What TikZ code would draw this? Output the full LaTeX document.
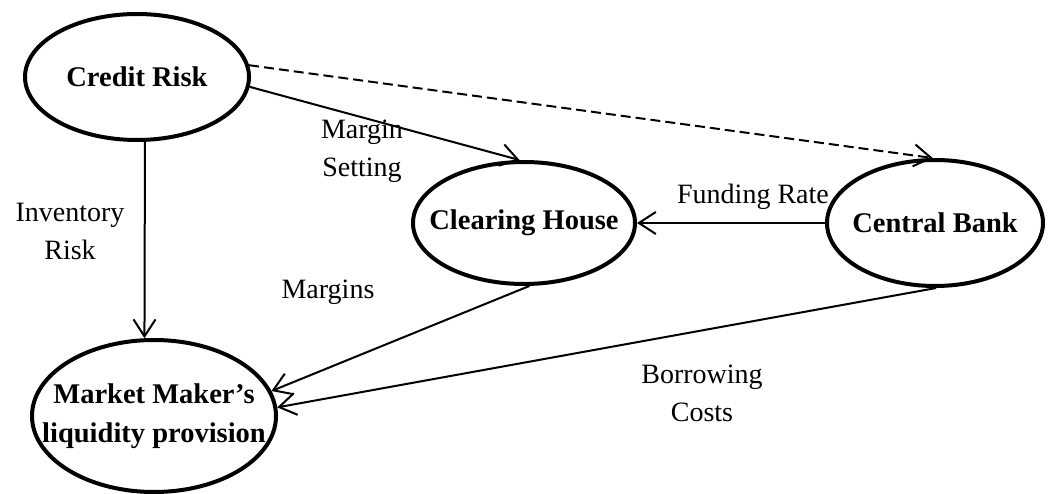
\documentclass[tikz,border=0pt]{standalone}
\usepackage{fontspec}
\setmainfont{Liberation Serif}
\usetikzlibrary{shapes.geometric,arrows.meta}
\tikzset{
  ell/.style={draw, ellipse, line width=4pt, inner sep=0pt},
  nodetext/.style={font=\fontsize{28.5}{39}\selectfont\bfseries, align=center},
  lbl/.style={font=\fontsize{28}{38}\selectfont, align=center, inner sep=0pt},
  conn/.style={line width=2pt, -{Straight Barb[length=17pt,width=22pt,line width=2pt]}},
  dashconn/.style={conn, dash pattern=on 10pt off 5pt}
}
\begin{document}
\begin{tikzpicture}[x=1pt,y=-1pt]
\useasboundingbox (0,0) rectangle (1052,494);
\node[ell, minimum width=224pt, minimum height=126pt,
      label={[nodetext]center:Credit Risk}] (cr) at (137,77) {};
\node[ell, minimum width=222pt, minimum height=122pt,
      label={[nodetext]center:Clearing House}] (ch) at (524,223) {};
\node[ell, minimum width=216pt, minimum height=126pt,
      label={[nodetext]center:Central Bank}] (cb) at (935,223) {};
\node[ell, minimum width=244pt, minimum height=152pt,
      label={[nodetext]center:Market Maker’s\\liquidity provision}] (mm) at (154,416) {};

\draw[conn] (cr.-5) -- (ch.94);
\draw[dashconn] (cr.6) -- (cb.92);
\draw[conn] (cr.-83) -- (mm.97);
\draw[conn] (cb.west) -- (ch.east);
\draw[conn] (ch.-85) -- (mm.12);
\draw[conn] (cb.-89) -- (mm.4);

\node[lbl] (l1) at (362,151) {Margin\\Setting};
\node[lbl] (l2) at (70,231) {Inventory\\Risk};
\node[lbl] (l3) at (753,197) {Funding Rate};
\node[lbl] (l4) at (328,292) {Margins};
\node[lbl] (l5) at (702,393) {Borrowing\\Costs};
\end{tikzpicture}
\end{document}
